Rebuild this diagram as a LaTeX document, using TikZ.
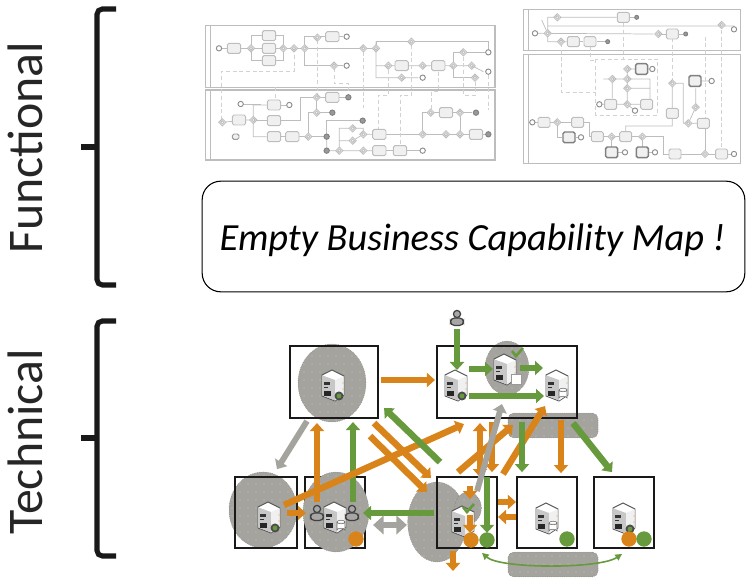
\documentclass[tikz,border=0pt]{standalone}
\usepackage{fontspec}
\setmainfont{Carlito}
\usetikzlibrary{arrows.meta,patterns.meta,shapes.geometric}
\definecolor{capOrange}{HTML}{D9841A}
\definecolor{capGreen}{HTML}{669A3D}
\definecolor{capGray}{HTML}{A5A39E}
\definecolor{capEdge}{HTML}{85837F}
\definecolor{bpmnLine}{HTML}{BDBDBD}
\definecolor{bpmnDash}{HTML}{D2D2D2}
\tikzset{
  server/.pic={
    \draw[black!65,line width=0.7pt,fill=white] (-1,-16) -- (11,-10) -- (11,9) -- (2,15) -- (-11,10) -- (-11,-11) -- cycle;
    \fill[black!22] (-10.5,-10.5) -- (2,-6) -- (2,14.5) -- (-10.5,9.5) -- cycle;
    \fill[black!6] (2,-6) -- (10.5,-9.5) -- (10.5,8.5) -- (2,14.5) -- cycle;
    \fill[black!80] (-9,-4) rectangle (-3,-1);
    \fill[black!80] (-9,1) rectangle (-5,2.5);
    \fill[black!85] (-9,5) rectangle (-2,10);
    \fill[capOrange!80] (10,-3) circle (0.7) (10,3) circle (0.7);
  },
  serverBall/.pic={
    \fill[black!70] (6,10) circle (4.5);
    \fill[capGreen] (6,10) circle (2.4);
  },
  dbCan/.pic={
    \draw[black!60,fill=white] (-4,-4) -- (-4,4) arc[start angle=180,end angle=360,x radius=4,y radius=1.8] -- (4,-4) arc[start angle=0,end angle=360,x radius=4,y radius=1.8];
  },
  personIcon/.pic={
    \draw[black!75,fill=black!35,line width=0.9pt] (0,-4) circle (3.6);
    \draw[black!75,fill=black!35,line width=0.9pt,rounded corners=3pt] (-6.5,7.5) -- (-6.5,0) -- (6.5,0) -- (6.5,7.5) -- cycle;
  },
  checkMark/.pic={
    \draw[capGreen,line width=2pt] (-5,-2) -- (-1,3) -- (6,-5);
  }
}
\begin{document}
\begin{tikzpicture}[x=0.75pt,y=-0.75pt,
  sideLabel/.style={rotate=90,anchor=base west,inner sep=0pt,font=\fontsize{37.4pt}{40pt}\selectfont,text=black!85},
  braceLine/.style={black!90,line width=3.8pt,rounded corners=4pt},
  braceTip/.style={black!90,line width=5pt},
  mapBox/.style={draw=black,line width=0.8pt,rounded corners=14pt,minimum width=407pt,minimum height=83pt},
  mapText/.style={inner sep=0pt,font=\fontsize{28.8pt}{32pt}\selectfont\itshape},
  srvBox/.style={draw=black!90,line width=1.6pt,inner sep=0pt},
  grayBlob/.style={shape=ellipse,inner sep=0pt,draw=capEdge,densely dotted,fill=capGray,postaction={pattern={Dots[distance=6pt,radius=0.3pt]},pattern color=white}},
  grayBar/.style={grayBlob,shape=rectangle,rounded corners=4pt},
  orangeArr/.style={capOrange,line width=4.9pt,-{Triangle[length=6pt,width=10.5pt]}},
  greenArr/.style={orangeArr,capGreen},
  grayArr/.style={capGray,line width=4.4pt,-{Triangle[length=6pt,width=10.5pt]}},
  grayBoth/.style={capGray,line width=5pt,{Triangle[length=8pt,width=14pt]}-{Triangle[length=8pt,width=14pt]}},
  dot/.style={shape=circle,inner sep=0pt,minimum size=11.5pt},
  bpmnFlow/.style={bpmnLine,line width=0.55pt},
  bpmnMsg/.style={bpmnDash,line width=0.55pt,densely dashed},
  bpmnPool/.style={bpmnLine,line width=0.9pt},
  bpmnTask/.style={draw=bpmnLine,line width=0.7pt,rounded corners=1.2pt,fill=black!6},
  bpmnThick/.style={bpmnTask,draw=black!50,line width=1.1pt},
  bpmnGate/.style={draw=bpmnLine,line width=0.6pt,fill=black!5},
  bpmnEvt/.style={draw=black!45,line width=0.7pt,fill=white},
  bpmnDark/.style={draw=black!50,line width=0.7pt,fill=black!40}]
\useasboundingbox (0,0) rectangle (754,580);

% side labels and brackets
\node[sideLabel] (funcLabel) at (42,254) {Functional};
\node[sideLabel] (techLabel) at (42,535) {Technical};
\draw[braceLine] (116,9) -- (97,9) -- (97,285) -- (116,285);
\draw[braceTip] (81,147) -- (97,147);
\draw[braceLine] (116,321) -- (97,321) -- (97,556) -- (116,556);
\draw[braceTip] (81,438) -- (97,438);

% left process sketch
\begin{scope}[shift={(200,0)},scale=1/3]
\draw[bpmnPool] (17,77) rectangle (885,263) (32,77) -- (32,263);
\draw[bpmnPool] (17,270) rectangle (885,480) (32,270) -- (32,480);
\foreach \a/\b in {57/145,122/312}
  \draw[bpmnFlow] (\a,\b) -- ++(60,0);
\draw[bpmnFlow] (57,145) -- (528,145) -- (528,125) -- (865,125) -- (865,148);
\draw[bpmnFlow] (153,145) -- (153,107) -- (187,107) (153,145) -- (153,182) -- (187,182);
\draw[bpmnFlow] (227,107) -- (250,107) -- (250,182) -- (227,182);
\draw[bpmnFlow] (314,197) -- (314,110) -- (377,110) (417,110) -- (430,110) (314,197) -- (430,197);
\draw[bpmnFlow] (528,125) -- (528,233) -- (655,233) (528,197) -- (815,197) -- (850,215);
\draw[bpmnFlow] (760,157) -- (760,233) -- (815,233) (760,157) -- (855,157);
\draw[bpmnFlow] (67,367) -- (137,360) -- (160,360) -- (160,410) -- (200,410) (160,360) -- (160,315) -- (200,315);
\draw[bpmnFlow] (243,315) -- (260,315) (160,362) -- (200,362) (243,362) -- (300,362) -- (300,292) -- (377,292);
\draw[bpmnFlow] (243,410) -- (380,410) -- (380,362) -- (480,362) (325,410) -- (325,338) -- (397,338) (350,292) -- (350,338) (417,292) -- (440,292);
\draw[bpmnFlow] (380,410) -- (380,452) -- (518,452) (418,452) -- (418,385) -- (490,385) -- (490,403) (418,422) -- (458,422) -- (490,403) -- (518,403);
\draw[bpmnFlow] (558,403) -- (808,403) (668,403) -- (668,338) -- (815,338) (780,338) -- (780,403) (848,403) -- (865,403);
\draw[bpmnFlow] (558,452) -- (580,452) (622,452) -- (660,452);
\draw[bpmnMsg] (282,145) -- (282,213) -- (65,213) -- (65,360);
\draw[bpmnMsg] (352,120) -- (352,285) (402,205) -- (402,250) -- (445,250) -- (445,285) (490,155) -- (490,325);
\draw[bpmnMsg] (635,135) -- (635,285) -- (600,285) -- (600,435) (565,210) -- (565,285) -- (535,285) -- (535,403);
\draw[bpmnMsg] (715,215) -- (715,275) -- (695,275) -- (695,330) (790,170) -- (790,285) -- (830,285) (865,225) -- (865,330) (825,245) -- (825,285) (225,262) -- (225,300);
\foreach \a/\b in {102/145,207/107,207/145,207/182,397/110,605/197,715/197,117/360,222/315,222/362,222/410,277/410,397/292,538/403,538/452,600/452,738/338,828/403}
  \draw[bpmnTask] (\a,\b) +(-20,-15) rectangle +(20,15);
\foreach \a/\b in {153/145,250/145,282/145,314/145,352/113,402/197,490/145,528/145,634/125,565/197,668/197,605/233,760/197,790/157,815/197,825/233,67/367,160/360,325/410,350/292,350/338,458/385,458/422,418/452,490/403,490/452,668/403,692/338,780/338,738/403,780/403}
  \draw[bpmnGate] (\a,\b) +(0,-11) -- +(11,0) -- +(0,11) -- +(-11,0) -- cycle (\a,\b) circle (5);
\foreach \a/\b in {57/145,440/110,440/197,865/157,865/215,668/233,122/312,268/315,668/452}
  \draw[bpmnEvt] (\a,\b) circle (8);
\foreach \a/\b in {380/410,380/452,397/338,445/292,488/362,828/338,865/403}
  \draw[bpmnDark] (\a,\b) circle (8);
\draw[bpmnTask,draw=black!40] (97,402) rectangle (117,418);
\end{scope}

% right process sketch
\begin{scope}[shift={(510,0)},scale=1/3]
\draw[bpmnPool] (40,28) rectangle (692,152) (55,28) -- (55,152);
\draw[bpmnPool] (40,163) rectangle (692,490) (55,163) -- (55,490);
\draw[bpmnMsg] (257,177) rectangle (443,345);
\draw[bpmnFlow] (75,100) -- (430,102) (95,60) -- (113,100) -- (113,52) -- (320,52) (113,78) -- (672,78) -- (672,88) (113,100) -- (113,125) -- (170,125);
\draw[bpmnFlow] (210,125) -- (220,125) (260,125) -- (285,125) (360,52) -- (372,52) (445,102) -- (467,102) (507,102) -- (520,102);
\draw[bpmnFlow] (268,313) -- (390,313) (352,313) -- (375,332) (352,207) -- (352,313) (352,207) -- (375,207) (415,207) -- (420,207) (280,237) -- (420,237) -- (420,300) (307,237) -- (307,295) (352,265) -- (420,265);
\draw[bpmnFlow] (67,367) -- (185,367) (142,367) -- (142,412) -- (157,412) (197,412) -- (205,412) (222,367) -- (238,367) -- (238,410) -- (245,410);
\draw[bpmnFlow] (280,410) -- (460,410) -- (460,462) -- (478,462) (305,410) -- (305,440) (325,457) -- (337,457) (397,410) -- (397,440) (415,457) -- (427,457);
\draw[bpmnFlow] (512,462) -- (615,462) (585,462) -- (585,385) (650,462) -- (665,462);
\draw[bpmnFlow] (487,255) -- (487,378) -- (347,378) -- (347,397) (495,250) -- (520,250) -- (520,370) -- (563,370) (535,370) -- (557,322) -- (557,265) (573,243) -- (598,243);
\draw[bpmnMsg] (155,130) -- (155,277) -- (257,277) (340,70) -- (340,177) (240,140) -- (240,180) -- (257,180) (487,115) -- (487,240) (635,90) -- (635,440) (585,110) -- (585,355);
\foreach \a/\b in {340/52,190/125,240/125,487/102,302/313,410/313,487/340,580/370,102/367,203/367,262/410,347/410,495/462,635/462}
  \draw[bpmnTask] (\a,\b) +(-18,-15) rectangle +(18,15);
\foreach \a/\b in {395/207,555/243,177/412,305/457,397/457}
  \draw[bpmnThick] (\a,\b) +(-18,-16) rectangle +(18,16);
\foreach \a/\b in {113/100,142/52,635/75,445/102,153/125,352/207,352/237,352/265,307/237,352/313,487/250,557/322,535/370,585/462,142/367,305/410,397/410}
  \draw[bpmnGate] (\a,\b) +(0,-11) -- +(11,0) -- +(0,11) -- +(-11,0) -- cycle (\a,\b) circle (5);
\foreach \a/\b in {75/100,672/88,427/207,268/313,375/332,605/243,672/462,67/367,213/412,345/457,435/457}
  \draw[bpmnEvt] (\a,\b) circle (8);
\foreach \a/\b in {380/52,527/102,293/125}
  \draw[bpmnDark] (\a,\b) circle (6);
\end{scope}

% capability map box
\node[mapBox] (capMap) at (473.5,236.5) {};
\node[mapText] (capText) at (472.5,240) {Empty Business Capability Map !};

% hosts
\node[grayBar,minimum width=67.5pt,minimum height=18.5pt] (barTop) at (553,425.5) {};
\node[grayBar,minimum width=67.5pt,minimum height=18.5pt] (barBot) at (553,564.5) {};
\node[grayBlob,minimum width=51pt,minimum height=58.5pt] (blobA) at (332,383) {};
\node[grayBlob,minimum width=51pt,minimum height=57pt] (blobC) at (263,510) {};
\node[grayBlob,minimum width=44pt,minimum height=60pt] (blobE) at (437,522) {};
\node[grayBlob,minimum width=33pt,minimum height=40.5pt] (blobB) at (507,368) {};
\node[srvBox,minimum width=66pt,minimum height=54pt] (boxA) at (334,382) {};
\node[srvBox,minimum width=105pt,minimum height=54pt] (boxB) at (507,382) {};
\node[srvBox,minimum width=46.5pt,minimum height=53pt] (boxC) at (266,512.5) {};
\node[srvBox,minimum width=45pt,minimum height=53pt] (boxD) at (335,512.5) {};
\node[srvBox,minimum width=45pt,minimum height=53pt] (boxE) at (467,512.5) {};
\node[srvBox,minimum width=45pt,minimum height=53pt] (boxF) at (547,512.5) {};
\node[srvBox,minimum width=45pt,minimum height=53pt] (boxG) at (624,512.5) {};
\node[grayBlob,minimum width=49.5pt,minimum height=60pt] (blobD) at (336,512) {};
\node[grayBlob,draw=black!55,minimum width=20pt,minimum height=24pt] (blobEin) at (468,508) {};
\draw[srvBox] (437,477) -- (437,548) -- (497,548) -- (497,477) -- cycle;

\coordinate (srvA) at (333,386);
\coordinate (srvBa) at (456,386);
\coordinate (srvBb) at (505,370);
\coordinate (srvBc) at (557,386);
\coordinate (srvC) at (269,518);
\coordinate (srvD) at (335,518);
\coordinate (srvE) at (463,522);
\coordinate (srvF) at (547,519);
\coordinate (srvG) at (624,519);
\coordinate (userB) at (457,318);
\coordinate (userDa) at (317,513);
\coordinate (userDb) at (352,513);
\coordinate (exitE) at (453,571);

\foreach \s in {srvA,srvBa,srvBb,srvBc,srvC,srvD,srvE,srvF,srvG}
  \pic at (\s) {server};
\foreach \s in {srvA,srvBa,srvC,srvG}
  \pic at (\s) {serverBall};
\foreach \s in {srvBc,srvD,srvF}
  \pic at ([shift={(6,8)}]\s) {dbCan};
\foreach \s in {userB,userDa,userDb}
  \pic at (\s) {personIcon};
\fill[white,draw=black!40] (511,374) rectangle (521,384);
\pic at ([shift={(12,-17)}]srvBb) {checkMark};
\pic at ([shift={(5,-13)}]srvE) {checkMark};

\node[dot,fill=capOrange] (ballD) at (356,539) {};
\node[dot,fill=capOrange] (ballEa) at (471,540) {};
\node[dot,fill=capGreen] (ballEb) at (487,540) {};
\node[dot,fill=capGreen] (ballF) at (567,539) {};
\node[dot,fill=capOrange] (ballGa) at (629,539) {};
\node[dot,fill=capGreen] (ballGb) at (644,539) {};

% links between hosts
\draw[orangeArr] ([shift={(2,-2)}]boxA.east) -- ([shift={(-1,-2)}]boxB.west);
\draw[grayArr] ([shift={(-27,2)}]boxA.south) -- ([shift={(11,-7)}]boxC.north);
\draw[orangeArr] ([shift={(-18,26)}]boxD.north) -- ([shift={(-17,4)}]boxA.south);
\draw[greenArr] ([shift={(18,26)}]boxD.north) -- ([shift={(19,3)}]boxA.south);
\draw[orangeArr] ([shift={(-14,-7.5)}]boxC.east) -- ([shift={(-43,5)}]boxB.south);
\draw[greenArr] ([shift={(-27,-14)}]boxE.north) -- ([shift={(5,26)}]boxA.east);
\draw[orangeArr] ([shift={(40,4)}]boxA.south) -- ([shift={(-5,-34.5)}]boxE.west);
\draw[orangeArr] ([shift={(36,17)}]boxA.south) -- ([shift={(-9,-20.5)}]boxE.west);
\draw[orangeArr] ([shift={(-11,0.5)}]boxC.east) -- ([shift={(2,0.5)}]boxD.west);
\draw[greenArr] ([shift={(-2,0.5)}]boxE.west) -- ([shift={(-3,0.5)}]boxD.east);
\draw[grayBoth] ([shift={(7,12.5)}]boxD.east) -- ([shift={(-29,12.5)}]boxE.west);
\draw[orangeArr] ([shift={(-14,2)}]boxE.south) -- (exitE);
\draw[greenArr] ([shift={(0,11)}]userB) -- ([shift={(1,-16)}]srvBa);
\draw[greenArr] ([shift={(13,-17)}]srvBa) -- ([shift={(-12,-1)}]srvBb);
\draw[greenArr] ([shift={(15,-2)}]srvBb) -- ([shift={(-14,-18)}]srvBc);
\draw[greenArr] ([shift={(13,10)}]srvBa) -- ([shift={(-13,10)}]srvBc);
\draw[orangeArr] ([shift={(-9,-4)}]boxE.north) -- ([shift={(6,6)}]boxB.south);
\draw[orangeArr] ([shift={(36,-2)}]boxE.north) -- ([shift={(38,-13)}]boxB.south);
\draw[orangeArr,{Triangle[length=6pt,width=10.5pt]}-{Triangle[length=6pt,width=10.5pt]}] ([shift={(-27,4)}]boxB.south) -- ([shift={(13,1)}]boxE.north);
\draw[orangeArr] ([shift={(-15,3)}]boxB.south) -- ([shift={(25,-4)}]boxE.north);
\draw[grayArr] ([shift={(10,15)}]boxE.north) -- ([shift={(-5,-15)}]boxB.south);
\draw[greenArr] ([shift={(15,3)}]boxB.south) -- ([shift={(-25,-4)}]boxF.north);
\draw[orangeArr] ([shift={(54,1)}]boxB.south) -- ([shift={(14,-3)}]boxF.north);
\draw[greenArr] ([shift={(66,4)}]boxB.south) -- ([shift={(-12,-4)}]boxG.north);
\draw[greenArr] ([shift={(20,1)}]boxE.north) -- ([shift={(20,-16)}]boxE.south);
\draw[orangeArr] ([shift={(3,10)}]boxE.north) -- ([shift={(3,23)}]boxE.north);
\draw[orangeArr] ([shift={(3,2.5)}]boxE.center) -- ([shift={(3,-16)}]boxE.south);
\draw[orangeArr] ([shift={(0,-10.5)}]boxE.east) -- ([shift={(0,-10.5)}]boxF.west);
\draw[orangeArr] ([shift={(0,4.5)}]boxF.west) -- ([shift={(0,4.5)}]boxE.east);
\draw[capGreen,line width=1.2pt,{Triangle[length=5pt,width=5pt]}-{Triangle[length=5pt,width=5pt]}] ([shift={(15,4)}]boxE.south) .. controls (500,569) and (600,569) .. ([shift={(-2,5)}]boxG.south);
\end{tikzpicture}
\end{document}
